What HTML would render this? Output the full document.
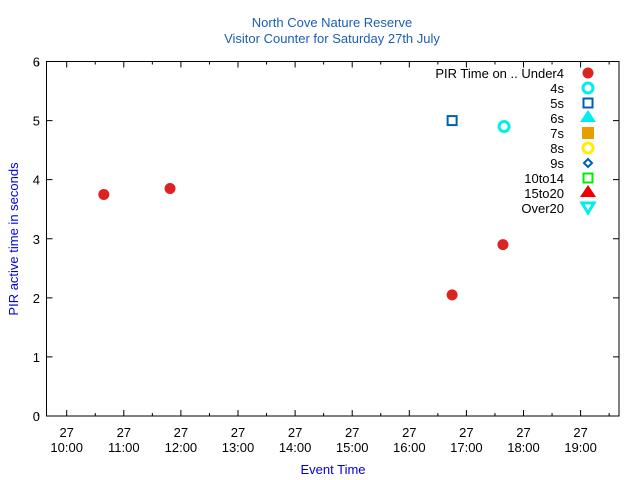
<!DOCTYPE html>
<html><head><meta charset="utf-8"><style>
body{margin:0;background:#fff}
svg{display:block;font-family:"Liberation Sans",sans-serif}
</style></head><body>
<svg id="c" width="640" height="480" viewBox="0 0 640 480">
<text x="332" y="27" text-anchor="middle" font-size="13" fill="#1a5fb4">North Cove Nature Reserve</text>
<text x="332" y="43" text-anchor="middle" font-size="13" fill="#1a5fb4">Visitor Counter for Saturday 27th July</text>
<text transform="translate(18,239) rotate(-90)" text-anchor="middle" font-size="13" fill="#0000dd">PIR active time in seconds</text>
<text x="333" y="474" text-anchor="middle" font-size="13" fill="#0000dd">Event Time</text>
<rect x="46.5" y="61.5" width="572.5" height="354.5" fill="none" stroke="#000"/>
<g id="axes"></g><g id="marks"></g><g id="legend"></g>
</svg>
<script>
const yTicks=[0,1,2,3,4,5,6];
const xTickHours=[10,11,12,13,14,15,16,17,18,19];
const xTickLabels=["10:00","11:00","12:00","13:00","14:00","15:00","16:00","17:00","18:00","19:00"];
const under4Times=[10.65,11.81,16.75,17.64];
const under4Values=[3.75,3.85,2.05,2.9];
const s4Times=[17.66];
const s4Values=[4.9];
const s5Times=[16.75];
const s5Values=[5.0];
const legendLabels=["PIR Time on .. Under4","4s","5s","6s","7s","8s","9s","10to14","15to20","Over20"];

const L=46.5,R=619,T=61.5,B=416;
const xs=h=>66.7+(h-10)*57.1;
const ys=v=>B-(v/6)*(B-T);
const NS="http://www.w3.org/2000/svg";
function mk(p,tag,a){const e=document.createElementNS(NS,tag);for(const k in a)e.setAttribute(k,a[k]);p.appendChild(e);return e;}
const ax=document.getElementById('axes');
yTicks.forEach(v=>{
  const y=ys(v);
  const t=mk(ax,'path',{d:`M${L},${y}h6M${R},${y}h-6`,stroke:'#000'});
  
  
  const tx=mk(ax,'text',{x:40,y:y+5,'text-anchor':'end','font-size':13});
  tx.textContent=v;
  
  
});
xTickHours.forEach((h,i)=>{
  const x=xs(h);
  const t=mk(ax,'path',{d:`M${x},${B}v-6M${x},${T}v6M${x+28.55},${B}v-3M${x+28.55},${T}v3`,stroke:'#000'});
  
  
  const tx=mk(ax,'text',{x:x,y:437,'text-anchor':'middle','font-size':13});
  tx.textContent='27';
  
  
  const tx2=mk(ax,'text',{x:x,y:452,'text-anchor':'middle','font-size':13});
  tx2.textContent=xTickLabels[i];
  
  
});
{const t=mk(ax,'path',{d:`M${xs(9.5)},${B}v-3M${xs(9.5)},${T}v3`,stroke:'#000'});

}

function sym(p,kind,x,y){
  let e;
  if(kind==0)e=mk(p,'circle',{cx:x,cy:y,r:5.5,fill:'#dd2222'});
  else if(kind==1)e=mk(p,'circle',{cx:x,cy:y,r:5,fill:'none',stroke:'#00eeee','stroke-width':3});
  else if(kind==2)e=mk(p,'rect',{x:x-4.5,y:y-4.5,width:9,height:9,fill:'none',stroke:'#0060ad','stroke-width':2});
  else if(kind==3)e=mk(p,'path',{d:`M${x},${y-8}l8,12h-16z`,fill:'#00eeee'});
  else if(kind==4)e=mk(p,'rect',{x:x-6,y:y-6,width:12,height:12,fill:'#e69f00'});
  else if(kind==5)e=mk(p,'circle',{cx:x,cy:y,r:5,fill:'none',stroke:'#ffee00','stroke-width':3});
  else if(kind==6)e=mk(p,'path',{d:`M${x},${y-4}l4,4l-4,4l-4,-4z`,fill:'none',stroke:'#0060ad','stroke-width':2});
  else if(kind==7)e=mk(p,'rect',{x:x-4.5,y:y-4.5,width:9,height:9,fill:'none',stroke:'#00ee00','stroke-width':2});
  else if(kind==8)e=mk(p,'path',{d:`M${x},${y-8}l8,12h-16z`,fill:'#ee0000'});
  else e=mk(p,'path',{d:`M${x-6},${y-5}h12l-6,10z`,fill:'none',stroke:'#00eeee','stroke-width':3});
  return e;
}
const mg=document.getElementById('marks');
under4Times.forEach((t,i)=>{const e=sym(mg,0,xs(t),ys(under4Values[i]));
  
  });
s4Times.forEach((t,i)=>{const e=sym(mg,1,xs(t),ys(s4Values[i]));
  
  });
s5Times.forEach((t,i)=>{const e=sym(mg,2,xs(t),ys(s5Values[i]));
  
  });
const lg=document.getElementById('legend');
legendLabels.forEach((s,i)=>{
  const y=73+i*15;
  const tx=mk(lg,'text',{x:564,y:y+5,'text-anchor':'end','font-size':13});
  tx.textContent=s;
  
  
  const e=sym(lg,i,588,y);
  
  
});
</script>
</body></html>
